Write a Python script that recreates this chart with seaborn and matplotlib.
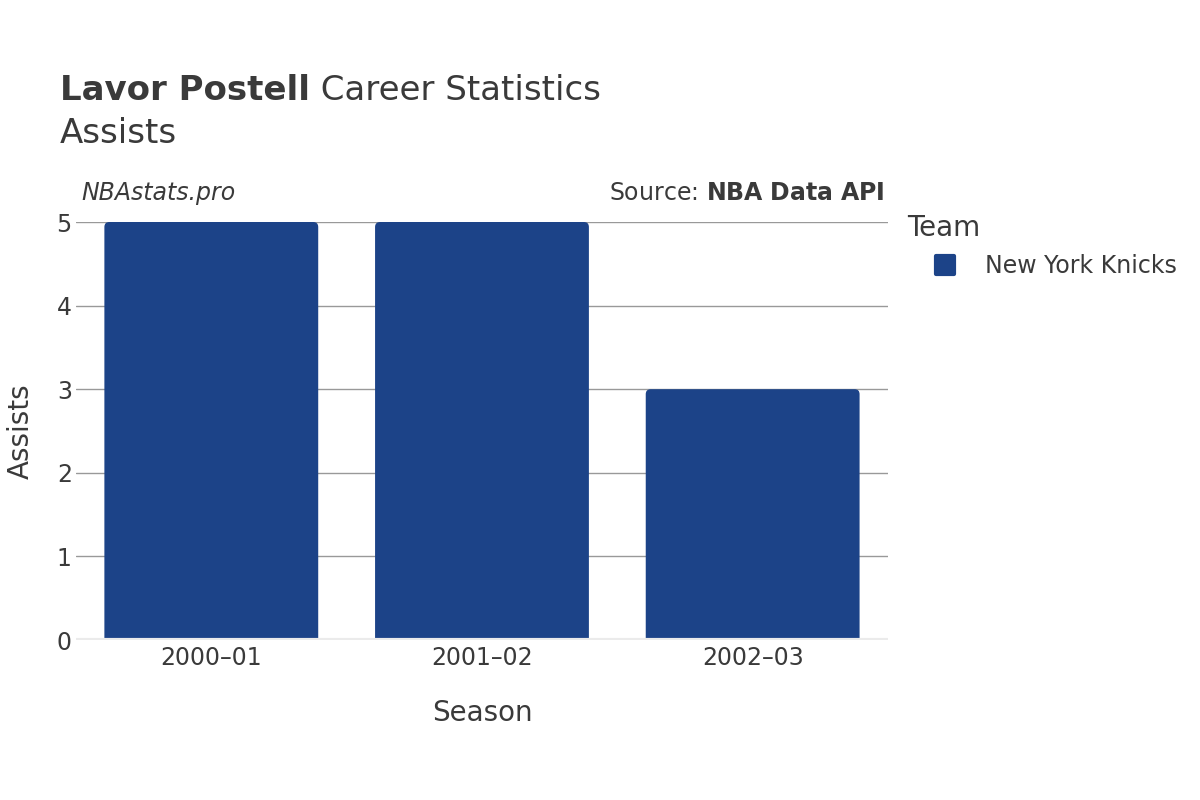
import matplotlib
matplotlib.use("Agg")
import matplotlib.pyplot as plt
import seaborn as sns
import pandas as pd
from matplotlib.patches import PathPatch
from matplotlib.path import Path
from matplotlib.lines import Line2D
from matplotlib.markers import MarkerStyle

# Data
seasons = ["2000\u201301", "2001\u201302", "2002\u201303"]
assists = [5, 5, 3]
teams = ["New York Knicks", "New York Knicks", "New York Knicks"]
team_colors = {"New York Knicks": "#1c4388"}

df = pd.DataFrame({"Season": seasons, "Assists": assists, "Team": teams})

sns.set_theme(style="white")
plt.rcParams["font.family"] = ["DejaVu Sans"]
text_color = "#3a3a3a"

fig = plt.figure(figsize=(12, 8), dpi=100)
ax = fig.add_axes([0.0633, 0.2, 0.6767, 0.5225])

sns.barplot(data=df, x="Season", y="Assists", hue="Team", palette=team_colors,
            saturation=1, width=0.79, ax=ax, legend=False, zorder=3)

ax.set_xlim(-0.5, 2.5)
ax.set_ylim(0, 5)

# rounded top corners: redraw each bar as a single path
rx = 5 / (812 / 3.0)   # ~5 px in category units
ry = 5 / (418 / 5.0)   # ~5 px in data units
for bar in list(ax.patches):
    x, y = bar.get_x(), bar.get_y()
    w, h = bar.get_width(), bar.get_height()
    fc = bar.get_facecolor()
    bar.remove()
    verts = [(x, y), (x, y + h - ry), (x, y + h), (x + rx, y + h),
             (x + w - rx, y + h), (x + w, y + h), (x + w, y + h - ry),
             (x + w, y), (x, y)]
    codes = [Path.MOVETO, Path.LINETO, Path.CURVE3, Path.CURVE3,
             Path.LINETO, Path.CURVE3, Path.CURVE3, Path.LINETO, Path.CLOSEPOLY]
    ax.add_patch(PathPatch(Path(verts, codes), facecolor=fc,
                           edgecolor="none", zorder=3))

ax.set_yticks([0, 1, 2, 3, 4, 5])
ax.yaxis.grid(True, color="#999999", linewidth=1, zorder=0)
ax.xaxis.grid(False)
for side in ["top", "right", "left", "bottom"]:
    ax.spines[side].set_visible(False)
ax.axhline(0, color="#ebebeb", linewidth=3, zorder=4)

ax.tick_params(axis="both", labelsize=17, colors=text_color, length=0)
ax.tick_params(axis="x", pad=4)
ax.tick_params(axis="y", pad=3)
ax.set_xlabel("Season", fontsize=20, color=text_color, labelpad=21)
ax.set_ylabel("Assists", fontsize=20, color=text_color, labelpad=16)

# titles
title_bold = fig.text(0.05, 0.875, "Lavor Postell", fontsize=24.5,
                      fontweight="bold", color=text_color, va="baseline")
fig.canvas.draw()
bb = title_bold.get_window_extent()
fig.text(bb.x1 / fig.bbox.width, 0.875, " Career Statistics", fontsize=24.5,
         color=text_color, va="baseline")
fig.text(0.05, 0.8212, "Assists", fontsize=24.5, color=text_color, va="baseline")

# annotations
ax.text(0.007, 1.053, "NBAstats.pro", transform=ax.transAxes, fontsize=17,
        style="italic", color=text_color, va="baseline", ha="left")
ax.text(0.996, 1.053, "Source: $\\bf{NBA\\ Data\\ API}$", transform=ax.transAxes,
        fontsize=17, color=text_color, va="baseline", ha="right")

# legend
marker = MarkerStyle("s", joinstyle="round")
handles = [Line2D([0], [0], marker=marker, linestyle="none", markersize=13,
                  markeredgewidth=3, markerfacecolor=team_colors[t],
                  markeredgecolor=team_colors[t])
           for t in team_colors]
leg = fig.legend(handles, list(team_colors), title="Team", loc="upper left",
                 bbox_to_anchor=(0.738, 0.759), frameon=False, fontsize=17,
                 title_fontsize=20, handlelength=3.19, handletextpad=0.1,
                 alignment="left")
for t in leg.get_texts():
    t.set_color(text_color)
leg.get_title().set_color(text_color)

fig.savefig("out.png", dpi=100)
